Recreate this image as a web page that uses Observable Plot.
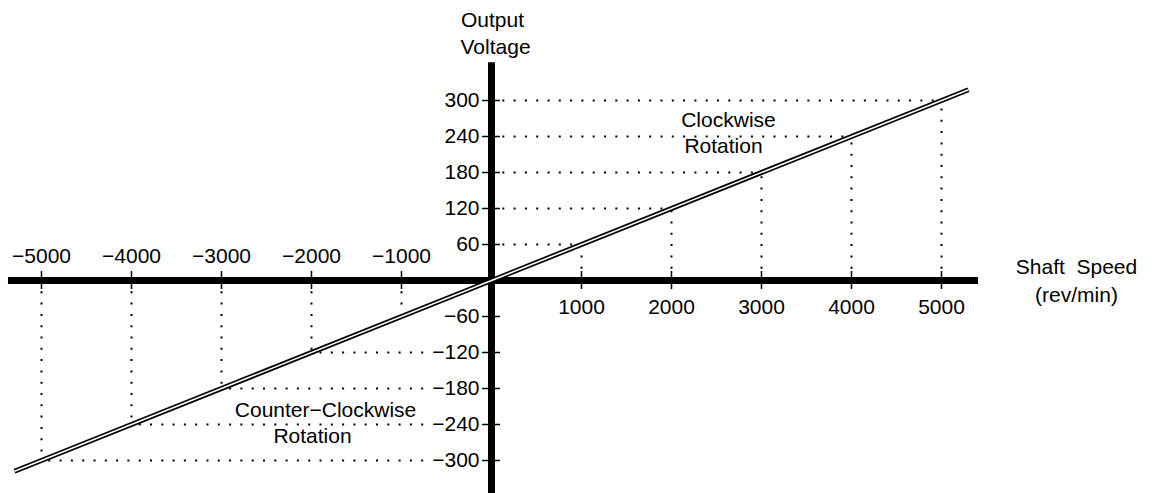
<!DOCTYPE html>
<html>
<head>
<meta charset="utf-8">
<script src="https://cdn.jsdelivr.net/npm/d3@7"></script>
<script src="https://cdn.jsdelivr.net/npm/@observablehq/plot@0.6"></script>
<style>
  html, body { margin: 0; padding: 0; background: #fff; }
  #chart svg { display: block; }
</style>
</head>
<body>
<div id="chart"></div>
<script>
// Data
const speeds = [-5000, -4000, -3000, -2000, -1000, 1000, 2000, 3000, 4000, 5000];
const volts = [-300, -240, -180, -120, -60, 60, 120, 180, 240, 300];
const speedLabels = ["−5000", "−4000", "−3000", "−2000", "−1000", "1000", "2000", "3000", "4000", "5000"];
const voltTicks = [-300, -240, -180, -120, -60, 60, 120, 180, 240, 300];
const voltLabels = ["−300", "−240", "−180", "−120", "−60", "60", "120", "180", "240", "300"];
// horizontal dotted guides drawn in the picture (the −60 one is absent)
const hGuideSpeeds = [-5000, -4000, -3000, -2000, 1000, 2000, 3000, 4000, 5000];
const hGuideVolts = [-300, -240, -180, -120, 60, 120, 180, 240, 300];
// vertical guide for −1000 stops short of the line
const vGuideEnd = [-300, -240, -180, -120, -45, 60, 120, 180, 240, 300];
const lineSpeed = [-5300, 5300];
const lineVolt = [-318, 318];

// Annotations (text, data position)
const annText = ["Output", "Voltage", "Shaft  Speed", "(rev/min)", "Clockwise", "Rotation", "Counter−Clockwise", "Rotation"];
const annX = [11, 45, 6500, 6500, 2633, 2578, -1844, -1989];
const annY = [433, 388, 22, -25, 267, 223, -217, -260];

const pts = speeds.map((s, i) => ({s, v: volts[i], end: vGuideEnd[i], label: speedLabels[i]}));
const hg = hGuideSpeeds.map((s, i) => ({s, v: hGuideVolts[i]}));
const yt = voltTicks.map((v, i) => ({v, label: voltLabels[i]}));
const linePts = lineSpeed.map((s, i) => ({s, v: lineVolt[i]}));
const ann = annText.map((t, i) => ({t, x: annX[i], y: annY[i]}));

const font = "'Liberation Sans', Arial, sans-serif";

const chart = Plot.plot({
  width: 1154,
  height: 493,
  margin: 0,
  x: {domain: [-491 / 0.09, (1154 - 491) / 0.09], axis: null},
  y: {domain: [-213 / 0.6, 280 / 0.6], axis: null},
  style: {fontFamily: font, background: "#fff", color: "#000"},
  marks: [
    // dotted guides
    Plot.ruleX(pts, {x: "s", y1: 0, y2: "end", stroke: "#000", strokeWidth: 2, strokeDasharray: "2,9.3"}),
    Plot.ruleY(hg, {y: "v", x1: 0, x2: "s", stroke: "#000", strokeWidth: 2, strokeDasharray: "2,9.3"}),
    // y tick labels with white halo hiding the dots beneath
    Plot.text(yt, {x: 0, y: "v", text: "label", dx: -12, textAnchor: "end", fontSize: 21, fill: "#000",
                   stroke: "#fff", strokeWidth: 14, paintOrder: "stroke"}),
    // thick axes
    Plot.ruleY([0], {x1: -5367, x2: 5411, stroke: "#000", strokeWidth: 7}),
    Plot.ruleX([0], {y1: -360, y2: 363, stroke: "#000", strokeWidth: 7}),
    // tick marks
    Plot.ruleX(pts, {x: "s", y1: -15, y2: 15, stroke: "#000", strokeWidth: 1.5}),
    Plot.ruleY(yt, {y: "v", x1: -100, x2: 100, stroke: "#000", strokeWidth: 1.5}),
    // x tick labels
    Plot.text(pts.filter(d => d.s > 0), {x: "s", y: 0, text: "label", dy: 27, fontSize: 21, fill: "#000"}),
    Plot.text(pts.filter(d => d.s < 0), {x: "s", y: 0, text: "label", dy: -24, fontSize: 21, fill: "#000"}),
    // the double line
    Plot.line(linePts, {x: "s", y: "v", stroke: "#000", strokeWidth: 5, strokeLinecap: "butt"}),
    Plot.line(linePts, {x: "s", y: "v", stroke: "#fff", strokeWidth: 1.6, strokeLinecap: "butt"}),
    // annotations
    Plot.text(ann, {x: "x", y: "y", text: "t", fontSize: 21, fill: "#000"})
  ]
});
document.getElementById("chart").append(chart);
</script>
</body>
</html>
